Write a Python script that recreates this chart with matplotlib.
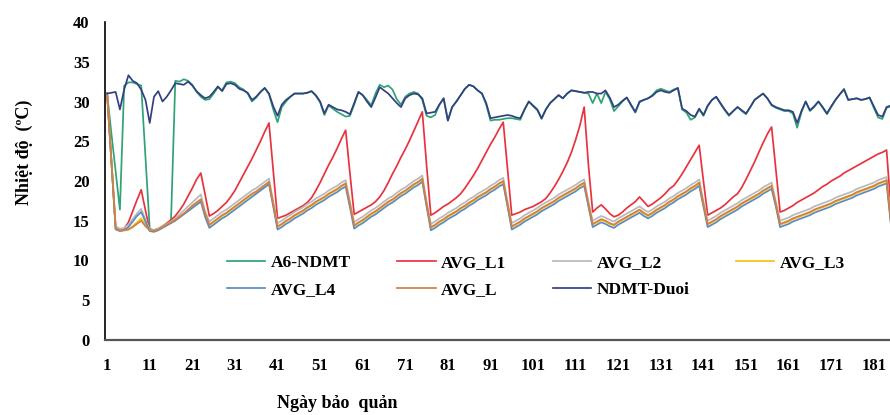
import numpy as np
import matplotlib
matplotlib.use("Agg")
import matplotlib.pyplot as plt

# --- dữ liệu ---
ngay = np.arange(1, 186)
tick_ngay = list(range(1, 182, 10))

a6_ndmt = [
    31.0, 26.0, 21.2, 16.4, 32.0, 32.4, 32.4, 32.2, 32.0, 23.0,
    14.0, 13.8, 14.0, 14.3, 14.6, 15.0, 32.6, 32.5, 32.8, 32.6,
    32.1, 31.2, 30.6, 30.2, 30.3, 31.0, 31.8, 31.4, 32.4, 32.5,
    32.3, 31.8, 31.5, 31.0, 30.0, 30.5, 31.2, 31.7, 30.9, 29.0,
    27.4, 29.3, 30.0, 30.6, 31.0, 31.0, 31.0, 31.1, 31.3, 30.7,
    29.9, 28.3, 29.5, 29.1, 28.7, 28.4, 28.1, 28.2, 29.6, 31.2,
    30.8, 30.2, 29.5, 31.0, 32.1, 31.8, 32.0, 31.5, 30.3, 29.6,
    30.6, 31.0, 31.2, 31.0, 30.2, 28.2, 28.0, 28.3, 29.6, 30.4,
    27.6, 29.3, 30.0, 30.8, 31.6, 32.1, 31.9, 31.4, 31.0, 29.6,
    27.6, 27.7, 27.7, 27.8, 27.9, 27.9, 27.8, 27.7, 29.0, 30.0,
    29.4, 28.9, 27.8, 29.0, 29.8, 30.3, 30.8, 30.4, 31.0, 31.4,
    31.3, 31.2, 31.1, 31.0, 29.8, 31.0, 29.8, 31.2, 30.3, 28.8,
    29.4, 30.0, 30.5, 29.5, 28.6, 29.9, 30.2, 30.4, 30.8, 31.4,
    31.6, 31.4, 31.2, 31.5, 31.7, 29.0, 28.6, 27.7, 28.0, 29.0,
    28.2, 29.4, 30.2, 30.6, 29.7, 28.9, 28.2, 28.8, 29.3, 28.8,
    28.4, 29.3, 30.2, 30.6, 31.0, 30.4, 29.5, 29.2, 29.0, 28.8,
    28.8, 28.5, 26.7, 28.6, 30.0, 28.8, 29.3, 30.0, 29.2, 28.4,
    29.3, 30.2, 30.9, 31.6, 30.2, 30.3, 30.4, 30.2, 30.3, 30.5,
    29.2, 28.0, 27.8, 29.2, 29.4,
]

avg_l1 = [
    31.0, 22.6, 14.2, 13.9, 14.0, 14.8, 16.2, 17.6, 18.9, 16.3,
    13.8, 13.8, 14.0, 14.3, 14.7, 15.1, 15.6, 16.3, 17.1, 18.1,
    19.1, 20.2, 21.0, 18.3, 15.6, 15.9, 16.3, 16.8, 17.3, 18.0,
    18.8, 19.8, 20.8, 21.8, 22.8, 23.9, 25.0, 26.2, 27.3, 21.3,
    15.3, 15.5, 15.7, 16.0, 16.3, 16.6, 16.9, 17.3, 17.9, 18.8,
    19.8, 20.9, 22.0, 23.0, 24.1, 25.3, 26.4, 21.0, 15.8, 16.1,
    16.4, 16.7, 17.0, 17.4, 18.0, 18.8, 19.8, 20.9, 21.9, 23.0,
    24.0, 25.1, 26.3, 27.5, 28.7, 22.0, 15.7, 16.0, 16.4, 16.8,
    17.1, 17.5, 17.9, 18.4, 19.1, 19.9, 20.7, 21.6, 22.6, 23.6,
    24.6, 25.5, 26.5, 27.4, 21.5, 15.7, 15.9, 16.1, 16.4, 16.6,
    16.8, 17.1, 17.4, 17.8, 18.5, 19.3, 20.2, 21.2, 22.3, 23.6,
    25.2, 27.0, 29.3, 22.0, 16.1, 16.6, 17.0, 16.5, 15.9, 15.5,
    15.7, 16.1, 16.6, 17.0, 17.4, 18.0, 17.4, 16.8, 17.1, 17.5,
    17.9, 18.4, 19.0, 19.4, 20.1, 20.9, 21.8, 22.7, 23.6, 24.5,
    20.0, 15.7, 16.0, 16.3, 16.6, 17.0, 17.5, 18.0, 18.4, 19.2,
    20.2, 21.3, 22.4, 23.6, 24.8, 25.9, 26.8, 21.5, 16.1, 16.3,
    16.6, 16.9, 17.3, 17.6, 17.9, 18.2, 18.5, 18.9, 19.3, 19.6,
    20.0, 20.3, 20.6, 21.0, 21.3, 21.6, 21.9, 22.2, 22.5, 22.8,
    23.1, 23.4, 23.6, 23.9, 16.5,
]

avg_l2 = [
    31.0, 22.7, 14.3, 14.0, 14.1, 14.5, 15.2, 15.9, 16.5, 15.1,
    13.9, 13.8, 14.0, 14.3, 14.6, 14.9, 15.3, 15.8, 16.3, 16.8,
    17.3, 17.8, 18.3, 16.2, 14.9, 15.3, 15.7, 16.1, 16.4, 16.8,
    17.2, 17.6, 18.0, 18.4, 18.8, 19.1, 19.5, 19.9, 20.3, 17.4,
    14.7, 15.0, 15.4, 15.7, 16.1, 16.4, 16.7, 17.1, 17.4, 17.8,
    18.1, 18.4, 18.8, 19.1, 19.4, 19.8, 20.1, 17.4, 14.8, 15.2,
    15.5, 15.9, 16.3, 16.6, 17.0, 17.4, 17.8, 18.1, 18.5, 18.9,
    19.2, 19.6, 20.0, 20.3, 20.7, 17.4, 14.6, 14.9, 15.3, 15.6,
    16.0, 16.3, 16.6, 17.0, 17.3, 17.7, 18.0, 18.4, 18.7, 19.0,
    19.4, 19.7, 20.1, 20.4, 17.4, 14.7, 15.0, 15.3, 15.7, 16.0,
    16.3, 16.6, 17.0, 17.3, 17.6, 17.9, 18.3, 18.6, 18.9, 19.2,
    19.5, 19.9, 20.2, 17.4, 15.0, 15.3, 15.6, 15.4, 15.1, 14.9,
    15.3, 15.6, 15.9, 16.2, 16.5, 16.8, 16.4, 16.1, 16.4, 16.8,
    17.1, 17.4, 17.8, 18.1, 18.5, 18.8, 19.1, 19.5, 19.8, 20.2,
    17.4, 15.0, 15.3, 15.6, 16.0, 16.3, 16.6, 16.9, 17.2, 17.6,
    17.9, 18.2, 18.5, 18.8, 19.2, 19.5, 19.8, 17.4, 15.0, 15.2,
    15.4, 15.7, 15.9, 16.1, 16.3, 16.5, 16.8, 17.0, 17.2, 17.4,
    17.6, 17.9, 18.1, 18.3, 18.5, 18.7, 19.0, 19.2, 19.4, 19.6,
    19.8, 20.1, 20.3, 20.5, 15.2,
]

avg_l3 = [
    31.0, 22.5, 14.0, 13.8, 13.8, 13.9, 14.3, 14.8, 15.3, 14.5,
    13.8, 13.7, 13.9, 14.2, 14.5, 14.8, 15.1, 15.5, 15.9, 16.3,
    16.8, 17.2, 17.6, 15.8, 14.4, 14.8, 15.2, 15.6, 15.9, 16.3,
    16.7, 17.1, 17.5, 17.9, 18.3, 18.6, 19.0, 19.4, 19.8, 17.0,
    14.2, 14.5, 14.9, 15.2, 15.6, 15.9, 16.2, 16.6, 16.9, 17.3,
    17.6, 17.9, 18.3, 18.6, 18.9, 19.3, 19.6, 17.0, 14.3, 14.7,
    15.0, 15.4, 15.8, 16.1, 16.5, 16.9, 17.3, 17.6, 18.0, 18.4,
    18.7, 19.1, 19.5, 19.8, 20.2, 17.0, 14.1, 14.4, 14.8, 15.1,
    15.5, 15.8, 16.1, 16.5, 16.8, 17.2, 17.5, 17.9, 18.2, 18.5,
    18.9, 19.2, 19.6, 19.9, 17.0, 14.2, 14.5, 14.8, 15.2, 15.5,
    15.8, 16.1, 16.5, 16.8, 17.1, 17.4, 17.8, 18.1, 18.4, 18.7,
    19.0, 19.4, 19.7, 17.0, 14.5, 14.8, 15.1, 14.9, 14.6, 14.4,
    14.8, 15.1, 15.4, 15.7, 16.0, 16.3, 15.9, 15.6, 15.9, 16.3,
    16.6, 16.9, 17.3, 17.6, 18.0, 18.3, 18.6, 19.0, 19.3, 19.7,
    17.0, 14.5, 14.8, 15.1, 15.5, 15.8, 16.1, 16.4, 16.7, 17.1,
    17.4, 17.7, 18.0, 18.3, 18.7, 19.0, 19.3, 17.0, 14.5, 14.7,
    14.9, 15.2, 15.4, 15.6, 15.8, 16.0, 16.3, 16.5, 16.7, 16.9,
    17.1, 17.4, 17.6, 17.8, 18.0, 18.2, 18.5, 18.7, 18.9, 19.1,
    19.3, 19.6, 19.8, 20.0, 14.8,
]

avg_l4 = [
    31.0, 22.4, 13.9, 13.7, 13.8, 14.2, 14.9, 15.6, 16.1, 14.9,
    13.7, 13.6, 13.8, 14.1, 14.4, 14.7, 15.0, 15.4, 15.8, 16.2,
    16.6, 17.0, 17.4, 15.5, 14.1, 14.5, 14.9, 15.3, 15.6, 16.0,
    16.4, 16.8, 17.2, 17.6, 18.0, 18.4, 18.8, 19.2, 19.6, 16.8,
    13.9, 14.2, 14.6, 14.9, 15.3, 15.6, 15.9, 16.3, 16.6, 17.0,
    17.3, 17.6, 18.0, 18.3, 18.6, 19.0, 19.3, 16.7, 14.0, 14.4,
    14.7, 15.1, 15.5, 15.8, 16.2, 16.6, 17.0, 17.3, 17.7, 18.1,
    18.4, 18.8, 19.2, 19.5, 19.9, 16.8, 13.8, 14.1, 14.5, 14.8,
    15.2, 15.5, 15.8, 16.2, 16.5, 16.9, 17.2, 17.6, 17.9, 18.2,
    18.6, 18.9, 19.3, 19.6, 16.8, 13.9, 14.2, 14.5, 14.9, 15.2,
    15.5, 15.8, 16.2, 16.5, 16.8, 17.1, 17.5, 17.8, 18.1, 18.4,
    18.7, 19.1, 19.4, 16.8, 14.2, 14.5, 14.8, 14.6, 14.3, 14.1,
    14.5, 14.8, 15.1, 15.4, 15.7, 16.0, 15.6, 15.3, 15.6, 16.0,
    16.3, 16.6, 17.0, 17.3, 17.7, 18.0, 18.3, 18.7, 19.0, 19.4,
    16.8, 14.2, 14.5, 14.8, 15.2, 15.5, 15.8, 16.1, 16.4, 16.8,
    17.1, 17.4, 17.7, 18.0, 18.4, 18.7, 19.0, 16.8, 14.2, 14.4,
    14.6, 14.9, 15.1, 15.3, 15.5, 15.7, 16.0, 16.2, 16.4, 16.6,
    16.8, 17.1, 17.3, 17.5, 17.7, 17.9, 18.2, 18.4, 18.6, 18.8,
    19.0, 19.3, 19.5, 19.7, 14.6,
]

avg_l = [
    31.0, 22.5, 14.0, 13.8, 13.8, 13.9, 14.2, 14.6, 15.0, 14.3,
    13.8, 13.7, 13.9, 14.2, 14.5, 14.8, 15.1, 15.5, 15.9, 16.4,
    16.9, 17.3, 17.7, 15.9, 14.5, 14.9, 15.3, 15.7, 16.0, 16.4,
    16.8, 17.2, 17.6, 18.0, 18.4, 18.7, 19.1, 19.5, 19.9, 17.1,
    14.3, 14.6, 15.0, 15.3, 15.7, 16.0, 16.3, 16.7, 17.0, 17.4,
    17.7, 18.0, 18.4, 18.7, 19.0, 19.4, 19.7, 17.1, 14.4, 14.8,
    15.1, 15.5, 15.9, 16.2, 16.6, 17.0, 17.4, 17.7, 18.1, 18.5,
    18.8, 19.2, 19.6, 19.9, 20.3, 17.1, 14.2, 14.5, 14.9, 15.2,
    15.6, 15.9, 16.2, 16.6, 16.9, 17.3, 17.6, 18.0, 18.3, 18.6,
    19.0, 19.3, 19.7, 20.0, 17.1, 14.3, 14.6, 14.9, 15.3, 15.6,
    15.9, 16.2, 16.6, 16.9, 17.2, 17.5, 17.9, 18.2, 18.5, 18.8,
    19.1, 19.5, 19.8, 17.1, 14.6, 14.9, 15.2, 15.0, 14.7, 14.5,
    14.9, 15.2, 15.5, 15.8, 16.1, 16.4, 16.0, 15.7, 16.0, 16.4,
    16.7, 17.0, 17.4, 17.7, 18.1, 18.4, 18.7, 19.1, 19.4, 19.8,
    17.1, 14.6, 14.9, 15.2, 15.6, 15.9, 16.2, 16.5, 16.8, 17.2,
    17.5, 17.8, 18.1, 18.4, 18.8, 19.1, 19.4, 17.1, 14.6, 14.8,
    15.0, 15.3, 15.5, 15.7, 15.9, 16.1, 16.4, 16.6, 16.8, 17.0,
    17.2, 17.5, 17.7, 17.9, 18.1, 18.3, 18.6, 18.8, 19.0, 19.2,
    19.4, 19.7, 19.9, 20.1, 14.9,
]

ndmt_duoi = [
    31.0, 31.1, 31.2, 29.0, 31.5, 33.3, 32.6, 32.3, 31.5, 30.2,
    27.3, 30.6, 31.3, 30.0, 30.6, 31.4, 32.3, 32.2, 32.1, 32.5,
    32.0, 31.3, 30.8, 30.4, 30.6, 31.2, 31.9, 31.3, 32.2, 32.3,
    32.1, 31.6, 31.4, 31.1, 30.2, 30.6, 31.2, 31.7, 31.0, 29.4,
    28.2, 29.6, 30.2, 30.6, 31.0, 31.0, 31.0, 31.1, 31.3, 30.8,
    30.0, 28.5, 29.6, 29.3, 29.0, 28.9, 28.7, 28.4, 29.8, 31.2,
    30.8, 30.0, 29.3, 30.5, 31.8, 31.4, 31.0, 30.4, 29.8, 29.3,
    30.4, 30.8, 31.0, 30.9, 30.4, 28.5, 28.6, 28.7, 29.6, 30.4,
    27.6, 29.3, 30.0, 30.8, 31.6, 32.1, 31.9, 31.4, 31.0, 29.8,
    27.9, 28.0, 28.1, 28.2, 28.3, 28.2, 28.0, 27.9, 29.0, 30.0,
    29.5, 29.0, 27.9, 29.0, 29.8, 30.3, 30.8, 30.4, 31.0, 31.4,
    31.3, 31.2, 31.1, 31.2, 31.2, 31.0, 31.0, 31.4, 30.5, 29.3,
    29.6, 30.1, 30.5, 29.6, 28.7, 30.0, 30.2, 30.4, 30.7, 31.2,
    31.4, 31.2, 31.1, 31.4, 31.7, 29.1, 28.8, 28.3, 28.1, 29.1,
    28.3, 29.5, 30.2, 30.6, 29.8, 29.0, 28.3, 28.8, 29.3, 28.9,
    28.5, 29.3, 30.2, 30.6, 31.0, 30.4, 29.6, 29.3, 29.1, 28.9,
    28.9, 28.7, 27.3, 28.8, 30.0, 28.9, 29.4, 30.0, 29.3, 28.5,
    29.4, 30.2, 30.9, 31.5, 30.2, 30.3, 30.4, 30.2, 30.3, 30.5,
    29.4, 28.3, 28.1, 29.3, 29.5,
]

ten_chuoi = ["A6-NDMT", "AVG_L1", "AVG_L2", "AVG_L3", "AVG_L4", "AVG_L", "NDMT-Duoi"]
du_lieu = [a6_ndmt, avg_l1, avg_l2, avg_l3, avg_l4, avg_l, ndmt_duoi]
mau = ["#2ea374", "#e8333f", "#b9b9b9", "#f2c21a", "#5b8bc0", "#d07f45", "#33407f"]

# --- vẽ ---
plt.rcParams["font.family"] = ["Liberation Serif", "DejaVu Serif"]
plt.rcParams["font.weight"] = "bold"

fig = plt.figure(figsize=(8.9, 4.15), dpi=100)
ax = fig.add_axes([105 / 890, 1 - 340 / 415, 785 / 890, 318 / 415])

duong = []
for ten, y, c in zip(ten_chuoi, du_lieu, mau):
    ln, = ax.plot(ngay, y, color=c, linewidth=1.25, label=ten)
    duong.append(ln)

ax.set_xlim(0.5, 184.8)
ax.set_ylim(0, 40)
ax.set_xticks(tick_ngay)
ax.set_xticklabels([str(t) for t in tick_ngay])
ax.set_yticks(range(0, 41, 5))
ax.tick_params(length=0, labelsize=12)
ax.tick_params(axis="x", pad=13)
ax.tick_params(axis="y", pad=11)
for lab in ax.get_xticklabels() + ax.get_yticklabels():
    lab.set_fontweight("bold")

ax.spines["top"].set_visible(False)
ax.spines["right"].set_visible(False)
ax.spines["left"].set_color("black")
ax.spines["left"].set_linewidth(1.2)
ax.spines["bottom"].set_color("#555555")
ax.spines["bottom"].set_linewidth(1.6)

fig.text(24 / 890, 1 - 152 / 415, "Nhiệt độ  (ºC)", rotation=90,
         ha="center", va="center", fontsize=13, fontweight="bold")
fig.text(337 / 890, 1 - 403 / 415, "Ngày bảo  quản",
         ha="center", va="center", fontsize=13, fontweight="bold")

# legend theo hàng: sắp lại thứ tự cho ncol=4
thu_tu = [0, 4, 1, 5, 2, 6, 3]
fig.legend([duong[i] for i in thu_tu], [ten_chuoi[i] for i in thu_tu],
           loc="upper left", bbox_to_anchor=(227 / 890, 1 - 255 / 415),
           ncol=4, frameon=False, handlelength=2.2,
           handletextpad=0.3, columnspacing=2.7, labelspacing=0.6,
           borderaxespad=0, borderpad=0,
           prop={"weight": "bold", "size": 12.5})

fig.savefig("out.png", dpi=100)
